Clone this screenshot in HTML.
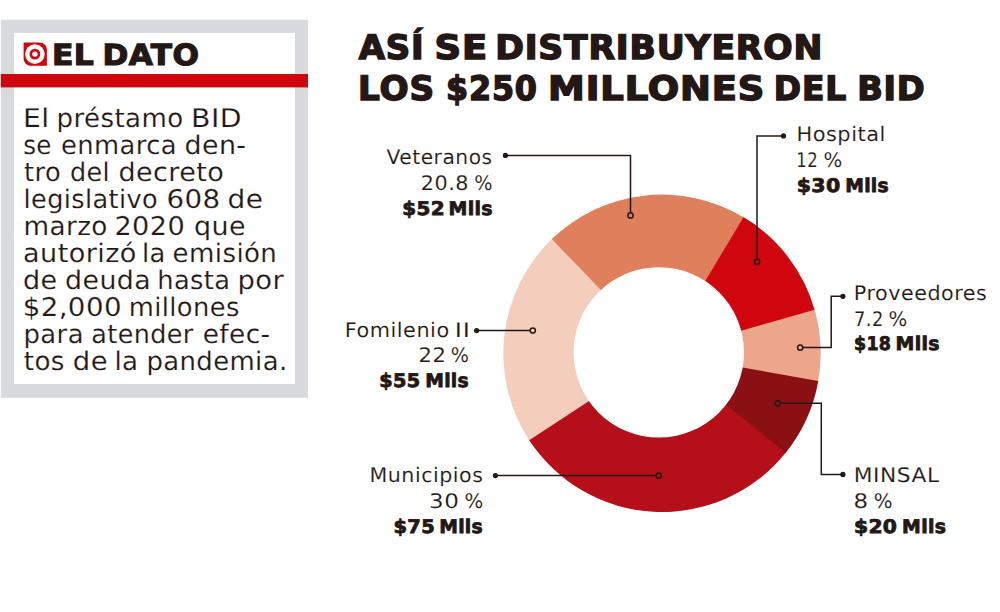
<!DOCTYPE html>
<html lang="es"><head><meta charset="utf-8"><title>El dato - BID</title>
<style>
html,body{margin:0;padding:0;background:#fff}
svg{display:block}
text{font-family:"DejaVu Sans","Liberation Sans",sans-serif;fill:#231815;text-rendering:geometricPrecision}
text.bd{font-size:25.8px;letter-spacing:0.4px;stroke:#fff;stroke-width:0.15px}
text.lr{font-size:20.1px;letter-spacing:0.5px;stroke:#fff;stroke-width:0.12px}
text.lb{font-size:18.8px;font-weight:bold;letter-spacing:0.3px;stroke:#231815;stroke-width:0.8px}
text.tt{font-size:33.6px;font-weight:bold;letter-spacing:0.8px;stroke:#231815;stroke-width:1.5px}
text.hd{font-size:29.1px;font-weight:bold;letter-spacing:0.4px;stroke:#231815;stroke-width:1.2px}
</style></head>
<body>
<svg width="1000" height="612" viewBox="0 0 1000 612">
<rect width="1000" height="612" fill="#fff"/>
<rect x="0.8" y="19.8" width="307.2" height="378" fill="#D9DADE"/>
<rect x="14" y="32.9" width="280.9" height="351.1" fill="#fff"/>
<rect x="0.8" y="74" width="307.2" height="13.4" fill="#D0060E"/>
<g id="icon">
<path d="M23.6 42.6H39.9a7 7 0 0 1 7 7V65.7H30.6a7 7 0 0 1 -7 -7Z" fill="#D0060E"/>
<circle cx="34.9" cy="54.1" r="9.8" fill="#fff"/>
<circle cx="34.9" cy="54.1" r="5.4" fill="#D0060E"/>
<circle cx="34.9" cy="54.1" r="2.7" fill="#fff"/>
</g>
<g id="donut">
<path d="M662.0 353.3L742.55 216.56A158.7 158.7 0 0 1 814.93 310.89Z" fill="#D0060E"/>
<path d="M662.0 353.3L814.63 309.82A158.7 158.7 0 0 1 818.08 382.00Z" fill="#EDA68C"/>
<path d="M662.0 353.3L818.28 380.91A158.7 158.7 0 0 1 784.95 453.65Z" fill="#8B1014"/>
<path d="M662.0 353.3L785.65 452.79A158.7 158.7 0 0 1 528.57 439.22Z" fill="#B50F19"/>
<path d="M662.0 353.3L529.18 440.15A158.7 158.7 0 0 1 552.60 238.34Z" fill="#F5CDBC"/>
<path d="M662.0 353.3L551.80 239.10A158.7 158.7 0 0 1 743.50 217.13Z" fill="#E07F5C"/>
<circle cx="658.8" cy="352.4" r="85.2" fill="#fff"/>
</g>
<g id="leaders">
<polyline points="505.4,155.4 630.5,155.4 630.5,212.8" fill="none" stroke="#231815" stroke-width="1.5"/>
<circle cx="505.4" cy="155.4" r="2.6" fill="#231815"/>
<circle cx="630.5" cy="215.4" r="2.6" fill="none" stroke="#231815" stroke-width="1.5"/>
<polyline points="783.5,135.9 757.0,135.9 757.0,259.2" fill="none" stroke="#231815" stroke-width="1.5"/>
<circle cx="783.5" cy="135.9" r="2.6" fill="#231815"/>
<circle cx="757.0" cy="261.8" r="2.6" fill="none" stroke="#231815" stroke-width="1.5"/>
<polyline points="842.9,296.3 831.2,296.3 831.2,347.6 802.8,347.6" fill="none" stroke="#231815" stroke-width="1.5"/>
<circle cx="842.9" cy="296.3" r="2.6" fill="#231815"/>
<circle cx="800.2" cy="347.6" r="2.6" fill="none" stroke="#231815" stroke-width="1.5"/>
<polyline points="842.9,474.4 821.3,474.4 821.3,403.3 780.3,403.3" fill="none" stroke="#231815" stroke-width="1.5"/>
<circle cx="842.9" cy="474.4" r="2.6" fill="#231815"/>
<circle cx="777.7" cy="403.3" r="2.6" fill="none" stroke="#231815" stroke-width="1.5"/>
<polyline points="476.6,330.5 530.2,330.5" fill="none" stroke="#231815" stroke-width="1.5"/>
<circle cx="476.6" cy="330.5" r="2.6" fill="#231815"/>
<circle cx="532.8" cy="330.5" r="2.6" fill="none" stroke="#231815" stroke-width="1.5"/>
<polyline points="495.4,475.6 656.0,475.6" fill="none" stroke="#231815" stroke-width="1.5"/>
<circle cx="495.4" cy="475.6" r="2.6" fill="#231815"/>
<circle cx="658.6" cy="475.6" r="2.6" fill="none" stroke="#231815" stroke-width="1.5"/>
</g>
<g id="dato-heading">
<text class="hd" y="65"><tspan x="52.01" textLength="42.31" lengthAdjust="spacingAndGlyphs">EL</tspan> <tspan x="102.41" textLength="96.90" lengthAdjust="spacingAndGlyphs">DATO</tspan></text>
</g>
<g id="dato-text">
<text class="bd" y="127"><tspan x="23.06" textLength="26.60" lengthAdjust="spacingAndGlyphs">El</tspan> <tspan x="56.61" textLength="126.90" lengthAdjust="spacingAndGlyphs">préstamo</tspan> <tspan x="191.10" textLength="50.92" lengthAdjust="spacingAndGlyphs">BID</tspan></text>
<text class="bd" y="154"><tspan x="23.16" textLength="28.67" lengthAdjust="spacingAndGlyphs">se</tspan> <tspan x="60.97" textLength="115.97" lengthAdjust="spacingAndGlyphs">enmarca</tspan> <tspan x="184.47" textLength="62.01" lengthAdjust="spacingAndGlyphs">den-</tspan></text>
<text class="bd" y="181"><tspan x="24.10" textLength="36.90" lengthAdjust="spacingAndGlyphs">tro</tspan> <tspan x="70.02" textLength="40.05" lengthAdjust="spacingAndGlyphs">del</tspan> <tspan x="118.42" textLength="105.71" lengthAdjust="spacingAndGlyphs">decreto</tspan></text>
<text class="bd" y="208"><tspan x="23.55" textLength="134.41" lengthAdjust="spacingAndGlyphs">legislativo</tspan> <tspan x="166.42" textLength="54.19" lengthAdjust="spacingAndGlyphs">608</tspan> <tspan x="227.64" textLength="35.86" lengthAdjust="spacingAndGlyphs">de</tspan></text>
<text class="bd" y="235"><tspan x="23.45" textLength="84.36" lengthAdjust="spacingAndGlyphs">marzo</tspan> <tspan x="114.41" textLength="70.65" lengthAdjust="spacingAndGlyphs">2020</tspan> <tspan x="194.09" textLength="51.98" lengthAdjust="spacingAndGlyphs">que</tspan></text>
<text class="bd" y="262"><tspan x="23.07" textLength="113.70" lengthAdjust="spacingAndGlyphs">autorizó</tspan> <tspan x="141.92" textLength="23.77" lengthAdjust="spacingAndGlyphs">la</tspan> <tspan x="172.63" textLength="104.66" lengthAdjust="spacingAndGlyphs">emisión</tspan></text>
<text class="bd" y="289"><tspan x="22.97" textLength="34.61" lengthAdjust="spacingAndGlyphs">de</tspan> <tspan x="65.08" textLength="85.99" lengthAdjust="spacingAndGlyphs">deuda</tspan> <tspan x="157.27" textLength="73.14" lengthAdjust="spacingAndGlyphs">hasta</tspan> <tspan x="237.49" textLength="46.65" lengthAdjust="spacingAndGlyphs">por</tspan></text>
<text class="bd" y="316"><tspan x="22.66" textLength="99.24" lengthAdjust="spacingAndGlyphs">$2,000</tspan> <tspan x="128.68" textLength="111.05" lengthAdjust="spacingAndGlyphs">millones</tspan></text>
<text class="bd" y="343"><tspan x="23.57" textLength="60.31" lengthAdjust="spacingAndGlyphs">para</tspan> <tspan x="91.36" textLength="102.37" lengthAdjust="spacingAndGlyphs">atender</tspan> <tspan x="202.75" textLength="67.77" lengthAdjust="spacingAndGlyphs">efec-</tspan></text>
<text class="bd" y="370"><tspan x="23.76" textLength="41.14" lengthAdjust="spacingAndGlyphs">tos</tspan> <tspan x="72.79" textLength="35.17" lengthAdjust="spacingAndGlyphs">de</tspan> <tspan x="114.44" textLength="23.98" lengthAdjust="spacingAndGlyphs">la</tspan> <tspan x="146.40" textLength="141.19" lengthAdjust="spacingAndGlyphs">pandemia.</tspan></text>
</g>
<g id="chart-title">
<text class="tt" y="59"><tspan x="358.66" textLength="65.72" lengthAdjust="spacingAndGlyphs">ASÍ</tspan> <tspan x="434.47" textLength="53.50" lengthAdjust="spacingAndGlyphs">SE</tspan> <tspan x="495.16" textLength="328.00" lengthAdjust="spacingAndGlyphs">DISTRIBUYERON</tspan></text>
<text class="tt" y="100"><tspan x="358.05" textLength="76.81" lengthAdjust="spacingAndGlyphs">LOS</tspan> <tspan x="446.10" textLength="91.58" lengthAdjust="spacingAndGlyphs">$250</tspan> <tspan x="548.06" textLength="217.20" lengthAdjust="spacingAndGlyphs">MILLONES</tspan> <tspan x="773.87" textLength="73.02" lengthAdjust="spacingAndGlyphs">DEL</tspan> <tspan x="857.15" textLength="68.43" lengthAdjust="spacingAndGlyphs">BID</tspan></text>
</g>
<g id="label-veteranos">
<text class="lr" y="164"><tspan x="386.45" textLength="106.21" lengthAdjust="spacingAndGlyphs">Veteranos</tspan></text>
<text class="lr" y="190"><tspan x="420.85" textLength="48.22" lengthAdjust="spacingAndGlyphs">20.8</tspan> <tspan x="474.31" textLength="18.79" lengthAdjust="spacingAndGlyphs">%</tspan></text>
<text class="lb" y="215"><tspan x="402.35" textLength="42.67" lengthAdjust="spacingAndGlyphs">$52</tspan> <tspan x="448.59" textLength="44.31" lengthAdjust="spacingAndGlyphs">Mlls</tspan></text>
</g>
<g id="label-hospital">
<text class="lr" y="141"><tspan x="796.40" textLength="89.47" lengthAdjust="spacingAndGlyphs">Hospital</tspan></text>
<text class="lr" y="167"><tspan x="796.35" textLength="21.76" lengthAdjust="spacingAndGlyphs">12</tspan> <tspan x="823.44" textLength="19.29" lengthAdjust="spacingAndGlyphs">%</tspan></text>
<text class="lb" y="192"><tspan x="796.74" textLength="43.72" lengthAdjust="spacingAndGlyphs">$30</tspan> <tspan x="845.21" textLength="43.81" lengthAdjust="spacingAndGlyphs">Mlls</tspan></text>
</g>
<g id="label-proveedores">
<text class="lr" y="300"><tspan x="853.81" textLength="133.50" lengthAdjust="spacingAndGlyphs">Proveedores</tspan></text>
<text class="lr" y="326"><tspan x="854.05" textLength="29.73" lengthAdjust="spacingAndGlyphs">7.2</tspan> <tspan x="888.38" textLength="19.29" lengthAdjust="spacingAndGlyphs">%</tspan></text>
<text class="lb" y="350"><tspan x="853.99" textLength="37.24" lengthAdjust="spacingAndGlyphs">$18</tspan> <tspan x="895.60" textLength="44.27" lengthAdjust="spacingAndGlyphs">Mlls</tspan></text>
</g>
<g id="label-minsal">
<text class="lr" y="482"><tspan x="853.74" textLength="85.85" lengthAdjust="spacingAndGlyphs">MINSAL</tspan></text>
<text class="lr" y="508"><tspan x="853.48" textLength="15.15" lengthAdjust="spacingAndGlyphs">8</tspan> <tspan x="873.70" textLength="19.32" lengthAdjust="spacingAndGlyphs">%</tspan></text>
<text class="lb" y="533"><tspan x="853.93" textLength="43.37" lengthAdjust="spacingAndGlyphs">$20</tspan> <tspan x="902.14" textLength="44.11" lengthAdjust="spacingAndGlyphs">Mlls</tspan></text>
</g>
<g id="label-fomilenio">
<text class="lr" y="337"><tspan x="344.66" textLength="105.01" lengthAdjust="spacingAndGlyphs">Fomilenio</tspan> <tspan x="454.85" textLength="15.59" lengthAdjust="spacingAndGlyphs">II</tspan></text>
<text class="lr" y="362"><tspan x="418.53" textLength="27.91" lengthAdjust="spacingAndGlyphs">22</tspan> <tspan x="450.79" textLength="18.63" lengthAdjust="spacingAndGlyphs">%</tspan></text>
<text class="lb" y="387"><tspan x="379.33" textLength="41.24" lengthAdjust="spacingAndGlyphs">$55</tspan> <tspan x="425.21" textLength="43.81" lengthAdjust="spacingAndGlyphs">Mlls</tspan></text>
</g>
<g id="label-municipios">
<text class="lr" y="482"><tspan x="369.47" textLength="114.01" lengthAdjust="spacingAndGlyphs">Municipios</tspan></text>
<text class="lr" y="508"><tspan x="429.05" textLength="30.45" lengthAdjust="spacingAndGlyphs">30</tspan> <tspan x="464.38" textLength="19.29" lengthAdjust="spacingAndGlyphs">%</tspan></text>
<text class="lb" y="533"><tspan x="393.42" textLength="41.61" lengthAdjust="spacingAndGlyphs">$75</tspan> <tspan x="439.21" textLength="43.81" lengthAdjust="spacingAndGlyphs">Mlls</tspan></text>
</g>
</svg>
</body></html>
